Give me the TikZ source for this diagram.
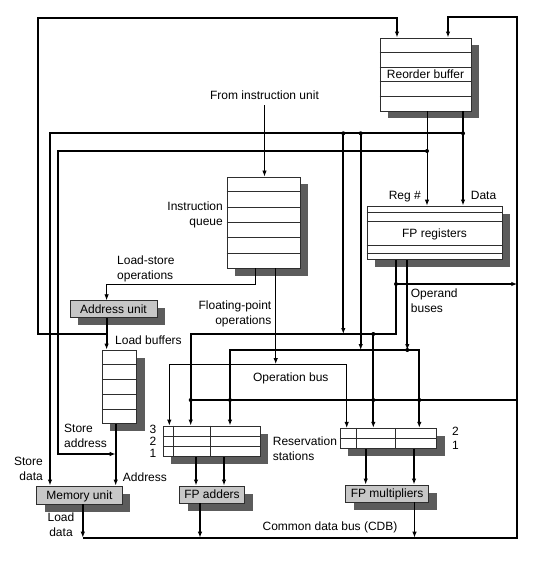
\documentclass[tikz,border=0pt]{standalone}
\usepackage{fontspec}
\setmainfont{Liberation Sans}
\usetikzlibrary{arrows.meta, calc, shadows}

\definecolor{ombra}{gray}{0.36}
\definecolor{grigio}{gray}{0.78}
\definecolor{bordo}{gray}{0.18}

\tikzset{
    cella/.style = {draw=bordo, line width=0.9pt, fill=white, inner sep=0pt,
        font=\fontsize{12}{15}\selectfont, text height=8.6pt, text depth=0pt,
        drop shadow={shadow xshift=8pt, shadow yshift=-7.5pt, fill=ombra, opacity=1}},
    unita/.style = {cella, fill=grigio},
    riga/.style = {draw=bordo, line width=0.9pt},
    bus/.style = {line width=1.9pt},
    filo/.style = {line width=0.9pt},
    etich/.style = {inner sep=0pt, font=\fontsize{12}{15}\selectfont},
    etich1/.style = {etich, text height=8.6pt, text depth=0pt}
}

\begin{document}
\begin{tikzpicture}[x=1pt, y=-1pt, >={Latex[length=6pt,width=4.5pt]}]
    % Cornice
    \useasboundingbox (0,0) rectangle (534,561);

    % Blocchi
    \node[cella, minimum width=91pt, minimum height=73pt] (rob) at (425.5,74.5) {Reorder buffer};
    \node[cella, minimum width=73pt, minimum height=91pt] (coda) at (263.5,222.5) {};
    \node[cella, minimum width=135pt, minimum height=53.5pt] (fpreg) at (434.5,232.75) {FP registers};
    \node[unita, minimum width=87pt, minimum height=17pt] (indir) at (113.5,309.2) {Address unit};
    \node[cella, minimum width=34.4pt, minimum height=73.3pt] (lbuf) at (119.5,386.7) {};
    \node[cella, minimum width=96.7pt, minimum height=30.7pt] (rsadd) at (211.7,441.35) {};
    \node[cella, minimum width=96.7pt, minimum height=20pt] (rsmul) at (388.35,438.3) {};
    \node[unita, minimum width=65pt, minimum height=17pt] (fpadd) at (212,494.5) {FP adders};
    \node[unita, minimum width=82.8pt, minimum height=17pt] (fpmul) at (387.1,493.5) {FP multipliers};
    \node[unita, minimum width=85.3pt, minimum height=18pt] (mem) at (79.35,495) {Memory unit};

    % Righe interne
    \foreach \k in {1,...,4}
        \draw[riga] ($(rob.north west)!\k/5!(rob.south west)$) -- ($(rob.north east)!\k/5!(rob.south east)$);
    \foreach \k in {1,...,5}
        \draw[riga] ($(coda.north west)!\k/6!(coda.south west)$) -- ($(coda.north east)!\k/6!(coda.south east)$);
    \foreach \k in {1,...,4}
        \draw[riga] ($(lbuf.north west)!\k/5!(lbuf.south west)$) -- ($(lbuf.north east)!\k/5!(lbuf.south east)$);
    \foreach \f in {0.136,0.293,0.742,0.873}
        \draw[riga] ($(fpreg.north west)!\f!(fpreg.south west)$) -- ($(fpreg.north east)!\f!(fpreg.south east)$);
    \foreach \k in {1,2}
        \draw[riga] ($(rsadd.north west)!\k/3!(rsadd.south west)$) -- ($(rsadd.north east)!\k/3!(rsadd.south east)$);
    \draw[riga] (rsmul.west) -- (rsmul.east);
    \foreach \f in {0.111,0.490}
        \draw[riga] ($(rsadd.north west)!\f!(rsadd.north east)$) -- ($(rsadd.south west)!\f!(rsadd.south east)$);
    \foreach \f in {0.173,0.569}
        \draw[riga] ($(rsmul.north west)!\f!(rsmul.north east)$) -- ($(rsmul.south west)!\f!(rsmul.south east)$);

    % Punti dei bus
    \coordinate (robIn1) at ($(rob.north)+(-28.5,0)$);
    \coordinate (robIn2) at ($(rob.north)+(22.5,0)$);
    \coordinate (jAU) at (106.6,334);
    \coordinate (angSx) at (38,18.3);
    \coordinate (angDx) at (517.3,16.7);
    \coordinate (jData) at (463,133.3);
    \coordinate (jReg) at (427,151);
    \coordinate (jV1) at (343.3,133.3);
    \coordinate (jV2) at (360.7,133.3);
    \coordinate (angSD) at (50,133.3);
    \coordinate (angSA) at (58.3,151);
    \coordinate (jSA) at (115.7,454);
    \coordinate (lsOut) at (255.4,284.3);
    \coordinate (fpOut) at (275.7,364);
    \coordinate (opSx) at (169.3,364);
    \coordinate (opDx) at (346.7,364);
    \coordinate (busAsx) at (190.7,334);
    \coordinate (busAdx) at (396,334);
    \coordinate (jA2) at (373.3,334);
    \coordinate (busBsx) at (230,350);
    \coordinate (busBdx) at (419.3,350);
    \coordinate (jB) at (407.3,350);
    \coordinate (jOp) at (396,284);
    \coordinate (jCdb) at (517.3,400);
    \coordinate (cdbSx) at (82.8,537.7);
    \coordinate (cdbAdd) at (200,537.7);
    \coordinate (cdbMul) at (414.5,537.7);

    % Indirizzi verso il ROB e i load buffers
    \draw[bus,->] (jAU) -| (angSx) -| (robIn1);
    \draw[bus,->] (indir.south -| jAU) -- (lbuf.north -| jAU);
    \draw[filo,->] (coda.south -| lsOut) -- (lsOut) -| (indir.north -| jAU);

    % Dall'unita' istruzioni
    \node[etich1] (fromiu) at (264.5,95.7) {From instruction unit};
    \draw[filo,->] ([yshift=-5pt]fromiu.south) -- (coda.north -| fromiu.south);

    % Operazioni FP e operation bus
    \draw[filo,->] (coda.south -| fpOut) -- (fpOut);
    \draw[filo,<->] (opSx |- rsadd.north) -- (opSx) -- (opDx) -- (opDx |- rsmul.north);

    % Uscite del ROB
    \draw[bus,->] (rob.south -| jData) -- (fpreg.north -| jData);
    \draw[filo,->] (rob.south -| jReg) -- (fpreg.north -| jReg);
    \draw[bus,->] (jData) -- (angSD) -- (angSD |- mem.north);
    \draw[bus,->] (jReg) -- (angSA) |- (jSA);
    \draw[bus,->] (jV1) -- (jV1 |- busAsx);
    \draw[bus,->] (jV2) -- (jV2 |- busBsx);
    \draw[bus,->] (lbuf.south -| jSA) -- (mem.north -| jSA);

    % Operand buses
    \draw[bus,->] (fpreg.south -| busAdx) -- (busAdx) -- (busAsx) -- (busAsx |- rsadd.north);
    \draw[bus,->] (fpreg.south -| jB) -- (jB);
    \draw[bus,<->] (busBsx |- rsadd.north) -- (busBsx) -- (busBdx) -- (busBdx |- rsmul.north);
    \draw[bus,->] (jA2) -- (jA2 |- rsmul.north);
    \draw[bus,->] (jOp) -- (jOp -| jCdb);

    % Uscite delle stazioni
    \foreach \xo in {196,224}
        \draw[bus,->] (rsadd.south -| \xo,0) -- (fpadd.north -| \xo,0);
    \foreach \xo in {365.7,414}
        \draw[bus,->] (rsmul.south -| \xo,0) -- (fpmul.north -| \xo,0);

    % Common data bus
    \draw[bus,->] (mem.south -| cdbSx) -- (cdbSx);
    \draw[bus,->] (fpadd.south -| cdbAdd) -- (cdbAdd);
    \draw[bus,->] (fpmul.south -| cdbMul) -- (cdbMul);
    \draw[bus,->] (cdbSx) -| (angDx) -| (robIn2);
    \draw[bus] (jCdb) -- (jCdb -| busAsx);

    % Giunzioni
    \foreach \p in {jData,jReg,jV1,jV2,jOp,jA2,jB}
        \fill (\p) circle (2pt);
    \foreach \p in {busAsx,busBsx,jA2,busBdx}
        \fill (\p |- jCdb) circle (2pt);

    % Etichette
    \node[etich1, anchor=east] (lreg) at (421,195) {Reg \#};
    \node[etich1, anchor=west] (ldata) at (470.7,195) {Data};
    \node[etich, align=right, anchor=north east] (lcoda) at (223,201.5) {Instruction\\queue};
    \node[etich, align=left, anchor=north west] (lls) at (117,255.5) {Load-store\\operations};
    \node[etich, align=right, anchor=north east] (lfp) at (271.5,300.5) {Floating-point\\operations};
    \node[etich, align=left, anchor=north west] (lopnd) at (410.7,288.8) {Operand\\buses};
    \node[etich1, anchor=west] (llb) at (115,340) {Load buffers};
    \node[etich1] (lopbus) at (290.8,376.7) {Operation bus};
    \node[etich, align=left, anchor=north west] (lsa) at (64,423.8) {Store\\address};
    \node[etich1, anchor=west] (laddr) at (122.7,476.7) {Address};
    \node[etich, align=right, anchor=north east] (lsd) at (43,456.5) {Store\\data};
    \node[etich, align=center, anchor=north] (lld) at (61,512.2) {Load\\data};
    \node[etich, align=left, anchor=north west] (lrs) at (272.7,436.2) {Reservation\\stations};
    \node[etich1] (lcdb) at (330,525.7) {Common data bus (CDB)};
    \foreach \yy/\n in {429.5/3,441.3/2,453/1}
        \node[etich1] (rsa\n) at (rsadd.west |- 0,\yy) [xshift=-10pt] {\n};
    \foreach \yy/\n in {431.5/2,445/1}
        \node[etich1] (rsm\n) at (rsmul.east |- 0,\yy) [xshift=18.3pt] {\n};
\end{tikzpicture}
\end{document}
